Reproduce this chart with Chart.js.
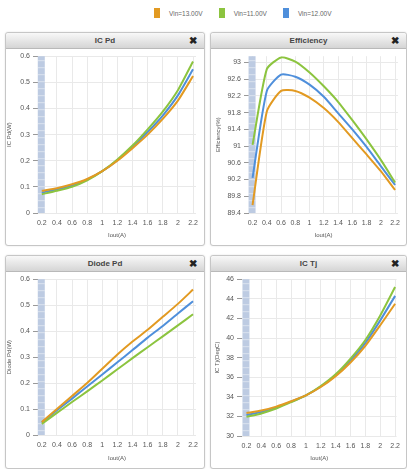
<!DOCTYPE html>
<html>
<head>
<meta charset="utf-8">
<script src="https://cdn.jsdelivr.net/npm/chart.js@4.4.1/dist/chart.umd.min.js"></script>
<style>
body{margin:0;background:#fff;font-family:"Liberation Sans",Arial,sans-serif;width:407px;height:469px;position:relative;overflow:hidden}
#legend{position:absolute;top:8px;left:154px;font-size:6.5px;color:#666;display:flex;align-items:center;height:10px}
#legend .box{display:inline-block;width:6px;height:10px;margin-right:9px}
#legend .lbl{margin-right:16px}
.panel{position:absolute;border:1px solid #c6c6c6;border-radius:3px;background:#fff;box-shadow:0 0 2px rgba(0,0,0,0.12)}
.head{height:15px;line-height:15px;background:linear-gradient(#f8f8f8,#d5d5d5);border-bottom:1px solid #b9b9b9;text-align:center;font-size:8px;font-weight:bold;color:#444;position:relative;border-radius:3px 3px 0 0}
.head .x{position:absolute;right:7px;top:0;font-size:10px;color:#222}
.wrap{position:relative;height:195px}
</style>
</head>
<body>
<div id="legend"></div>

<div class="panel" style="left:5px;top:32px;width:198px;height:212px">
  <div class="head">IC Pd<span class="x">&#10006;</span></div>
  <div class="wrap"><canvas id="c1"></canvas></div>
</div>
<div class="panel" style="left:210px;top:32px;width:195px;height:212px">
  <div class="head">Efficiency<span class="x">&#10006;</span></div>
  <div class="wrap"><canvas id="c2"></canvas></div>
</div>
<div class="panel" style="left:5px;top:255px;width:198px;height:212px">
  <div class="head">Diode Pd<span class="x">&#10006;</span></div>
  <div class="wrap"><canvas id="c3"></canvas></div>
</div>
<div class="panel" style="left:210px;top:255px;width:195px;height:212px">
  <div class="head">IC Tj<span class="x">&#10006;</span></div>
  <div class="wrap"><canvas id="c4"></canvas></div>
</div>

<script>
// data
const iout = [0.2, 0.4, 0.6, 0.8, 1.0, 1.2, 1.4, 1.6, 1.8, 2.0, 2.2];
const seriesNames = ['Vin=13.00V', 'Vin=11.00V', 'Vin=12.00V'];
const seriesColors = ['#e29a22', '#8cc43f', '#4f8fdb'];

const icPd13 = [0.085, 0.095, 0.11, 0.13, 0.16, 0.20, 0.248, 0.30, 0.36, 0.43, 0.524];
const icPd11 = [0.072, 0.085, 0.10, 0.125, 0.16, 0.205, 0.258, 0.32, 0.388, 0.47, 0.58];
const icPd12 = [0.078, 0.09, 0.105, 0.128, 0.16, 0.202, 0.253, 0.31, 0.373, 0.45, 0.55];

const eff13 = [89.59, 91.83, 92.32, 92.32, 92.16, 91.91, 91.58, 91.19, 90.80, 90.40, 89.95];
const eff11 = [91.03, 92.84, 93.12, 93.02, 92.76, 92.43, 92.06, 91.62, 91.16, 90.67, 90.13];
const eff12 = [90.24, 92.32, 92.71, 92.66, 92.47, 92.18, 91.79, 91.40, 90.98, 90.52, 90.07];

const dPd13 = [0.05, 0.10, 0.15, 0.20, 0.255, 0.31, 0.36, 0.405, 0.455, 0.505, 0.56];
const dPd11 = [0.043, 0.085, 0.127, 0.168, 0.21, 0.253, 0.296, 0.338, 0.38, 0.422, 0.465];
const dPd12 = [0.048, 0.095, 0.14, 0.187, 0.233, 0.28, 0.327, 0.375, 0.42, 0.468, 0.515];

const tj13 = [32.35, 32.6, 33.0, 33.55, 34.15, 35.0, 36.1, 37.5, 39.2, 41.3, 43.5];
const tj11 = [31.95, 32.3, 32.8, 33.45, 34.15, 35.1, 36.3, 37.9, 39.8, 42.3, 45.2];
const tj12 = [32.15, 32.45, 32.9, 33.5, 34.15, 35.05, 36.2, 37.7, 39.5, 41.8, 44.3];

const xTicks = [0.2, 0.4, 0.6, 0.8, 1, 1.2, 1.4, 1.6, 1.8, 2, 2.2];
const pdTicks = [0, 0.1, 0.2, 0.3, 0.4, 0.5, 0.6];
const effTicks = [89.4, 89.8, 90.2, 90.6, 91, 91.4, 91.8, 92.2, 92.6, 93];
const tjTicks = [30, 32, 34, 36, 38, 40, 42, 44, 46];

// legend
const legend = document.getElementById('legend');
seriesNames.forEach(function(name, i){
  legend.innerHTML += '<span class="box" style="background:' + seriesColors[i] + '"></span><span class="lbl">' + name + '</span>';
});

// highlighted column at the first Iout value
const bandPlugin = {
  id: 'band',
  beforeDatasetsDraw(chart){
    const ctx = chart.ctx, a = chart.chartArea;
    const x = chart.scales.x.getPixelForValue(iout[0]);
    ctx.save();
    ctx.fillStyle = '#bdcbe2';
    ctx.fillRect(x - 4, a.top, 7, a.bottom - a.top);
    ctx.strokeStyle = 'rgba(255,255,255,0.45)';
    ctx.lineWidth = 1;
    for (let y = a.top + 4; y < a.bottom; y += 7) {
      ctx.beginPath(); ctx.moveTo(x - 4, y + 0.5); ctx.lineTo(x + 3, y + 0.5); ctx.stroke();
    }
    ctx.restore();
  }
};

function fmt(v){ return String(+v.toFixed(2)); }

function makeChart(id, values, yTicks, yTitle, lay){
  const datasets = values.map(function(v, i){
    return {
      label: seriesNames[i],
      data: iout.map(function(x, j){ return {x: x, y: v[j]}; }),
      borderColor: seriesColors[i],
      backgroundColor: seriesColors[i],
      borderWidth: 2,
      pointRadius: 0,
      tension: 0.2,
      fill: false
    };
  });
  return new Chart(document.getElementById(id), {
    type: 'line',
    data: {datasets: datasets},
    plugins: [bandPlugin],
    options: {
      responsive: true,
      maintainAspectRatio: false,
      animation: false,
      layout: {padding: {top: lay.top, right: lay.right, left: 0, bottom: 0}},
      plugins: {legend: {display: false}, tooltip: {enabled: false}},
      scales: {
        x: {
          type: 'linear',
          min: lay.xMin, max: lay.xMax,
          afterBuildTicks: function(s){ s.ticks = xTicks.map(function(v){ return {value: v}; }); },
          afterFit: function(s){ s.height = lay.xh; },
          grid: {color: '#e9e9e9', drawTicks: false},
          border: {display: false},
          ticks: {padding: 6, color: '#555', font: {size: 7, family: 'Liberation Sans'}, maxRotation: 0, autoSkip: false, callback: fmt},
          title: {display: true, text: 'Iout(A)', color: '#555', padding: {top: 0, bottom: 5}, font: {size: 6, family: 'Liberation Sans'}}
        },
        y: {
          min: yTicks[0], max: lay.yMax,
          afterBuildTicks: function(s){ s.ticks = yTicks.map(function(v){ return {value: v}; }); },
          afterFit: function(s){ s.width = lay.yw; },
          grid: {color: '#e9e9e9', tickLength: 5, tickColor: '#999'},
          border: {display: false},
          ticks: {padding: 3, color: '#555', font: {size: 7, family: 'Liberation Sans'}, autoSkip: false, callback: fmt},
          title: {display: true, text: yTitle, color: '#555', padding: lay.tp, font: {size: 6, family: 'Liberation Sans'}}
        }
      }
    }
  });
}

makeChart('c1', [icPd13, icPd11, icPd12], pdTicks, 'IC Pd(W)',
  {top: 6, right: 6, xh: 31, yw: 32, xMin: 0.15, xMax: 2.24, yMax: 0.6, tp: 0});
makeChart('c2', [eff13, eff11, eff12], effTicks, 'Efficiency(%)',
  {top: 2, right: 3, xh: 31, yw: 38, xMin: 0.15, xMax: 2.24, yMax: 93.15, tp: 4});
makeChart('c3', [dPd13, dPd11, dPd12], pdTicks, 'Diode Pd(W)',
  {top: 5, right: 6, xh: 32, yw: 32, xMin: 0.15, xMax: 2.24, yMax: 0.6, tp: 0});
makeChart('c4', [tj13, tj11, tj12], tjTicks, 'IC Tj(DegC)',
  {top: 5, right: 2, xh: 31, yw: 31, xMin: 0.14, xMax: 2.22, yMax: 46, tp: 3});
</script>
</body>
</html>
